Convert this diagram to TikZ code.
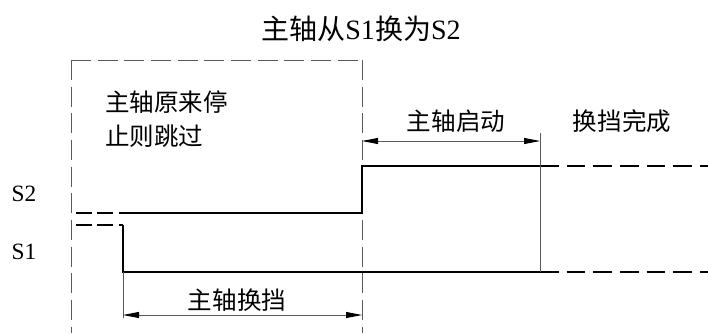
\documentclass[tikz,border=0pt]{standalone}
\usepackage{fontspec}
\setmainfont{Liberation Serif}
\newfontfamily\cjk{Noto Sans CJK SC}
\usetikzlibrary{arrows.meta}

\begin{document}
\begin{tikzpicture}[x=0.75pt,y=-0.75pt,
    sig/.style={line width=1.1pt},
    sigdash/.style={line width=1.1pt, dash pattern=on 14pt off 6pt},
    frame/.style={black!65, line width=0.6pt, dash pattern=on 15pt off 5pt},
    guide/.style={black!65, line width=0.6pt},
    span/.style={guide, {Triangle[length=12pt,width=4.5pt,black]}-{Triangle[length=12pt,width=4.5pt,black]}},
    lbl/.style={font=\cjk\fontsize{18.4}{25.5}\selectfont, inner sep=0pt}]
  \useasboundingbox (0,0) rectangle (708,333);
  % title and labels
  \node[font=\fontsize{21}{24}\selectfont, inner sep=0pt] (title) at (361,29) {{\cjk 主轴从}S1{\cjk 换为}S2};
  \node[lbl, align=left, anchor=west] (skip) at (105,119) {主轴原来停\\止则跳过};
  \node[lbl] (start) at (456,121) {主轴启动};
  \node[lbl] (done) at (622,121) {换挡完成};
  \node[lbl] (shift) at (237,300) {主轴换挡};
  \node[font=\fontsize{17.5}{20}\selectfont, inner sep=0pt] (nS2) at (24,194) {S2};
  \node[font=\fontsize{17.5}{20}\selectfont, inner sep=0pt] (nS1) at (24,252) {S1};
  % dashed frame
  \coordinate (boxTL) at (71,60);
  \coordinate (boxTR) at (362,60);
  \coordinate (boxBL) at (71,333);
  \coordinate (boxBR) at (362,333);
  \draw[frame] (boxTL) -- (boxBL);
  \draw[frame] (boxTL) -- (boxTR);
  \draw[frame] (boxTR) -- (boxBR);
  % signal S2
  \coordinate (s2a) at (76,213);
  \coordinate (s2b) at (120,213);
  \coordinate (s2c) at (362,213);
  \coordinate (s2d) at (362,166);
  \coordinate (s2e) at (540,166);
  \coordinate (s2f) at (708,166);
  \draw[sigdash, line width=0.8pt, dash pattern=on 12pt off 4pt] (s2a) -- (s2b);
  \draw[sig] (s2b) -- (s2c) -- (s2d) -- (s2e);
  \draw[sigdash] (s2e) -- (s2f);
  % signal S1
  \coordinate (s1a) at (76,225);
  \coordinate (s1b) at (123,225);
  \coordinate (s1c) at (123,272);
  \coordinate (s1d) at (540,272);
  \coordinate (s1e) at (708,272);
  \draw[sigdash, dash pattern=on 12pt off 4pt] (s1a) -- (s1b);
  \draw[sig] (s1b) -- (s1c) -- (s1d);
  \draw[sigdash] (s1d) -- (s1e);
  % guide lines and spans
  \coordinate (doneTop) at (540,133);
  \coordinate (shiftBot) at (123,318);
  \coordinate (startL) at (362,141);
  \coordinate (startR) at (540,141);
  \coordinate (shiftL) at (123,315);
  \coordinate (shiftR) at (362,315);
  \draw[guide] (doneTop) -- (s1d);
  \draw[guide] (s1c) -- (shiftBot);
  \draw[span] (startL) -- (startR);
  \draw[span] (shiftL) -- (shiftR);
\end{tikzpicture}
\end{document}
